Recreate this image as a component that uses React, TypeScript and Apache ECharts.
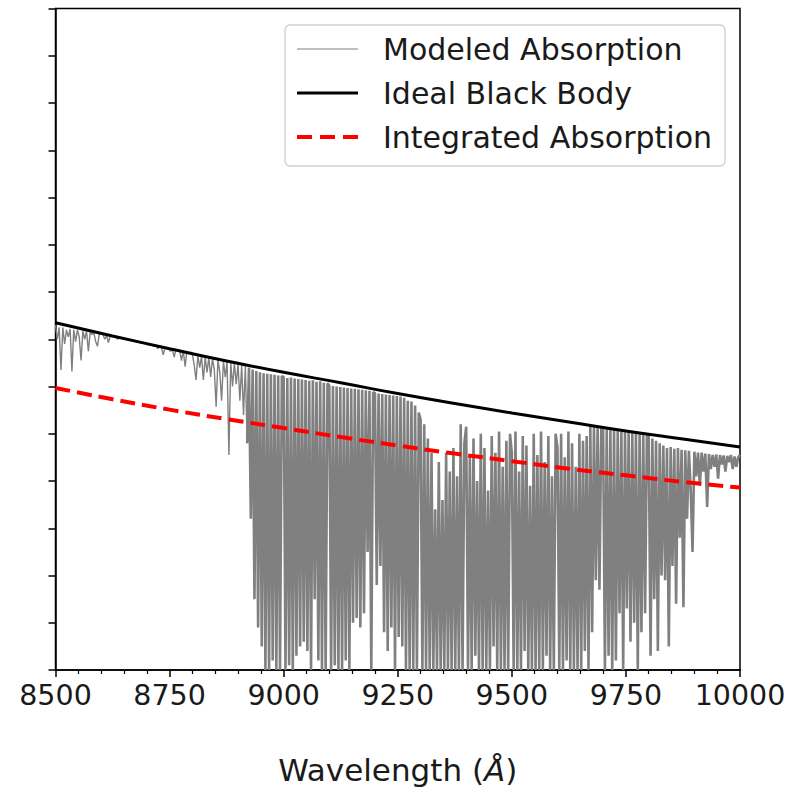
import React, { useEffect, useRef } from "react";
import * as echarts from "echarts";

// ---- data ----
// Modeled absorption spectrum, sampled every 4 Å, in 100 Å blocks
const wlStep = 4;
const absorption8500 = [7.30, 7.00, 7.25, 6.35, 7.25, 6.90, 7.20, 7.05, 7.22, 6.32, 7.20, 6.95, 7.20, 7.05, 6.55, 7.18, 7.00, 7.17, 6.75, 7.15, 7.10, 7.14, 6.95, 6.85, 7.12];
const absorption8600 = [7.11, 7.10, 7.00, 7.08, 6.93, 7.07, 7.06, 7.05, 7.04, 7.00, 7.03, 7.02, 7.02, 7.01, 7.00, 6.99, 6.98, 6.97, 6.96, 6.95, 6.94, 6.93, 6.92, 6.92, 6.91];
const absorption8700 = [6.89, 6.88, 6.87, 6.87, 6.85, 6.86, 6.80, 6.84, 6.83, 6.67, 6.82, 6.80, 6.81, 6.74, 6.80, 6.62, 6.78, 6.76, 6.77, 6.55, 6.76, 6.42, 6.75, 6.70, 6.73];
const absorption8800 = [6.68, 6.45, 6.14, 6.66, 6.40, 6.64, 6.14, 6.62, 6.30, 6.61, 6.20, 6.60, 6.35, 5.57, 6.57, 6.30, 5.70, 6.55, 6.20, 6.53, 4.55, 6.52, 6.00, 6.50, 6.05];
const absorption8900 = [6.48, 5.70, 6.46, 5.40, 6.44, 4.80, 6.40, 3.20, 6.36, 1.50, 6.33, 0.90, 6.30, 0.50, 6.28, 0.00, 6.27, 0.00, 6.26, 0.20, 6.25, 0.00, 6.23, 0.00, 6.22];
const absorption9000 = [6.20, 0.00, 6.18, 0.10, 6.19, 0.00, 6.17, 0.30, 6.16, 0.50, 6.15, 0.60, 6.14, 0.40, 6.12, 0.00, 6.13, 1.50, 6.10, 0.20, 6.11, 0.00, 6.08, 0.00, 6.07];
const absorption9100 = [6.02, 0.00, 6.01, 0.10, 6.00, 0.00, 5.99, 0.00, 5.98, 0.20, 5.97, 0.00, 5.96, 1.00, 5.95, 1.10, 5.94, 0.90, 5.93, 1.20, 5.92, 2.50, 5.91, 0.00, 5.88];
const absorption9200 = [5.86, 1.80, 5.85, 2.20, 5.84, 0.80, 5.83, 0.40, 5.82, 0.90, 5.81, 0.00, 5.80, 0.70, 5.79, 0.50, 5.76, 0.00, 5.70, 0.00, 5.68, 0.00, 5.60, 0.00, 5.45];
const absorption9300 = [5.30, 0.00, 5.20, 0.00, 4.90, 0.00, 4.60, 0.00, 3.40, 0.00, 4.40, 0.00, 3.60, 0.00, 4.60, 0.00, 4.20, 0.00, 4.70, 0.00, 4.10, 0.00, 5.20, 0.00, 4.80];
const absorption9400 = [5.15, 0.00, 4.50, 0.00, 4.90, 0.30, 4.00, 0.00, 5.00, 0.00, 4.70, 0.00, 3.80, 0.00, 4.95, 0.50, 4.60, 0.00, 5.05, 0.00, 4.30, 0.00, 4.85, 0.00, 5.00];
const absorption9500 = [4.60, 0.00, 5.05, 0.00, 4.20, 0.00, 4.95, 0.40, 4.75, 0.00, 3.90, 0.00, 5.00, 0.00, 4.55, 0.00, 5.05, 0.00, 4.40, 0.30, 4.95, 0.00, 4.10, 0.00, 5.00];
const absorption9600 = [4.70, 0.00, 5.00, 0.00, 4.50, 0.20, 5.05, 0.00, 4.80, 0.00, 4.30, 0.00, 5.00, 0.00, 4.85, 0.40, 4.95, 0.00, 5.16, 0.80, 5.15, 1.90, 5.14, 1.70, 5.13];
const absorption9700 = [5.11, 0.00, 5.10, 0.30, 5.09, 0.00, 5.08, 0.20, 5.07, 1.20, 5.06, 0.00, 5.05, 1.30, 5.04, 0.60, 5.03, 1.00, 5.02, 0.00, 5.01, 0.80, 5.00, 1.20, 4.98];
const absorption9800 = [4.95, 0.30, 4.90, 1.50, 4.85, 0.40, 4.80, 2.00, 4.75, 1.90, 4.70, 0.50, 4.72, 2.20, 4.68, 1.40, 4.70, 2.80, 4.66, 1.33, 4.65, 3.20, 4.64, 3.80, 2.50];
const absorption9900 = [4.62, 4.10, 4.60, 3.90, 4.60, 4.20, 4.58, 3.45, 4.57, 4.25, 4.55, 4.30, 4.56, 4.05, 4.55, 4.35, 4.54, 4.20, 4.53, 4.40, 4.55, 4.25, 4.52, 4.30, 4.50];
const absorptionAt10000 = 4.55;
// wavelength where the dense absorption band starts (drawn with a heavier stroke)
const denseBandStart = 8920;

// Ideal black body and integrated absorption curves
const curveWavelengths = [8500, 8625, 8750, 8875, 9000, 9125, 9250, 9375, 9500, 9625, 9750, 9875, 10000];
const blackBodyFlux = [7.35, 7.07, 6.80, 6.54, 6.30, 6.08, 5.85, 5.64, 5.44, 5.25, 5.06, 4.89, 4.72];
const integratedFlux = [5.97, 5.73, 5.51, 5.31, 5.12, 4.93, 4.75, 4.58, 4.42, 4.26, 4.12, 3.98, 3.86];

const xTickStep = 250;
const legendLabels = ["Modeled Absorption", "Ideal Black Body", "Integrated Absorption"];

const absorptionBlocks: [number, number[]][] = [
  [8500, absorption8500], [8600, absorption8600], [8700, absorption8700], [8800, absorption8800],
  [8900, absorption8900], [9000, absorption9000], [9100, absorption9100], [9200, absorption9200],
  [9300, absorption9300], [9400, absorption9400], [9500, absorption9500], [9600, absorption9600],
  [9700, absorption9700], [9800, absorption9800], [9900, absorption9900],
];

const FONT = "DejaVu Sans";

export default function App() {
  const ref = useRef<HTMLDivElement>(null);
  useEffect(() => {
    const chart = echarts.init(ref.current!, null, { renderer: "svg" });
    const modeled: number[][] = [];
    absorptionBlocks.forEach(([start, vals]) => {
      vals.forEach((v, i) => modeled.push([start + i * wlStep, v]));
    });
    modeled.push([10000, absorptionAt10000]);
    const sparse = modeled.filter((p) => p[0] <= denseBandStart);
    const dense = modeled.filter((p) => p[0] >= denseBandStart);
    const black = curveWavelengths.map((w, i) => [w, blackBodyFlux[i]]);
    const red = curveWavelengths.map((w, i) => [w, integratedFlux[i]]);

    const legendRows = [49, 93, 137];
    const option: any = {
      animation: false,
      backgroundColor: "#ffffff",
      grid: {
        left: 55.5, top: 8.5, width: 684.5, height: 661.5,
        show: true, borderColor: "#000", borderWidth: 1.5, backgroundColor: "transparent",
      },
      xAxis: {
        type: "value", min: 8500, max: 10000, interval: xTickStep,
        axisLine: { show: true, onZero: false, lineStyle: { color: "#000", width: 1.5 } },
        axisTick: { show: true, inside: false, length: 7, lineStyle: { color: "#000", width: 1.5 } },
        minorTick: { show: true, splitNumber: 5, length: 4, lineStyle: { color: "#000", width: 1.2 } },
        splitLine: { show: false },
        axisLabel: {
          fontSize: 28.5, color: "#1a1a1a", fontFamily: FONT, margin: 11,
          formatter: (v: number) => String(v),
        },
        name: "{a|Wavelength (}{b|Å}{a|)}",
        nameLocation: "middle",
        nameGap: 84,
        nameTextStyle: {
          rich: {
            a: { fontSize: 31, fontFamily: FONT, color: "#1a1a1a" },
            b: { fontSize: 31, fontFamily: FONT, color: "#1a1a1a", fontStyle: "italic" },
          },
        },
      },
      yAxis: {
        type: "value", min: 0, max: 14, interval: 1,
        axisLine: { show: true, onZero: false, lineStyle: { color: "#000", width: 1.5 } },
        axisTick: { show: true, inside: false, length: 7, lineStyle: { color: "#000", width: 1.5 } },
        axisLabel: { show: false },
        splitLine: { show: false },
      },
      series: [
        {
          name: legendLabels[0], type: "line", data: sparse, symbol: "none", silent: true,
          lineStyle: { color: "#808080", width: 1.4 },
        },
        {
          name: legendLabels[0], type: "line", data: dense, symbol: "none", silent: true,
          lineStyle: { color: "#808080", width: 2.6, join: "bevel" },
        },
        {
          name: legendLabels[1], type: "line", data: black, symbol: "none", smooth: true, silent: true,
          lineStyle: { color: "#000000", width: 3 },
        },
        {
          name: legendLabels[2], type: "line", data: red, symbol: "none", smooth: true, silent: true,
          lineStyle: { color: "#ff0000", width: 4, type: [15, 7] },
        },
      ],
      graphic: [
        {
          type: "rect", z: 100,
          shape: { x: 285, y: 25, width: 440, height: 141, r: 5 },
          style: { fill: "rgba(255,255,255,0.85)", stroke: "#cfcfcf", lineWidth: 1.3 },
        },
        {
          type: "line", z: 101,
          shape: { x1: 297, y1: legendRows[0], x2: 358, y2: legendRows[0] },
          style: { stroke: "#808080", lineWidth: 1.2 },
        },
        {
          type: "line", z: 101,
          shape: { x1: 297, y1: legendRows[1], x2: 358, y2: legendRows[1] },
          style: { stroke: "#000", lineWidth: 3 },
        },
        {
          type: "line", z: 101,
          shape: { x1: 297, y1: legendRows[2], x2: 358, y2: legendRows[2] },
          style: { stroke: "#ff0000", lineWidth: 4, lineDash: [15, 8] },
        },
        ...legendLabels.map((t, i) => ({
          type: "text", z: 101, x: 383, y: legendRows[i],
          style: { text: t, fontSize: 30, fontFamily: FONT, fill: "#1a1a1a", verticalAlign: "middle", align: "left" },
        })),
      ],
    };
    chart.setOption(option);
    return () => chart.dispose();
  }, []);
  return (
    <div
      ref={ref}
      style={{ position: "absolute", left: 0, top: 0, width: 797, height: 790, background: "#fff" }}
    />
  );
}
